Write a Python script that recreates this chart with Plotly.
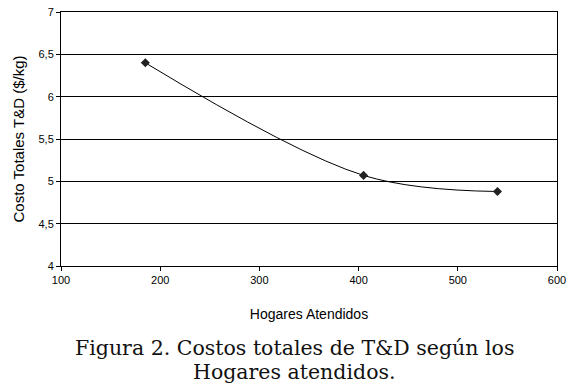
import plotly.graph_objects as go

hogares = [185, 405, 540]
costo = [6.40, 5.07, 4.88]
x_ticks = [100, 200, 300, 400, 500, 600]
y_ticks = [4, 4.5, 5, 5.5, 6, 6.5, 7]
y_labels = ["4", "4,5", "5", "5,5", "6", "6,5", "7"]

fig = go.Figure()
fig.add_trace(go.Scatter(
    x=hogares, y=costo, mode="lines+markers",
    line=dict(color="black", width=1, shape="spline", smoothing=1.0),
    marker=dict(symbol="diamond", size=7, color="#222222"),
    showlegend=False,
))

axis_font = dict(family="Liberation Sans, Arial", size=11, color="black")
fig.update_layout(
    width=570, height=392,
    margin=dict(l=61, r=13, t=12, b=126),
    paper_bgcolor="white", plot_bgcolor="white",
    xaxis=dict(range=[100, 600], tickvals=x_ticks, ticks="outside", ticklen=4,
               tickcolor="black", showline=True, linecolor="black", linewidth=1,
               mirror=True, showgrid=False, zeroline=False, tickfont=axis_font,
               automargin=False,
               title=dict(text="Hogares Atendidos",
                          font=dict(family="Liberation Sans, Arial", size=14, color="black"),
                          standoff=23)),
    yaxis=dict(range=[4, 7], tickvals=y_ticks, ticktext=y_labels, ticks="outside",
               ticklen=4, tickcolor="black", showline=True, linecolor="black",
               linewidth=1, mirror=True, showgrid=True, gridcolor="black",
               gridwidth=1, zeroline=False, tickfont=axis_font, automargin=False,
               title=dict(text="Costo Totales T&D ($/kg)",
                          font=dict(family="Liberation Sans, Arial", size=15, color="black"),
                          standoff=10)),
)

cap_font = dict(family="DejaVu Serif", size=20.5, color="#111111")
fig.add_annotation(text="Figura 2. Costos totales de T&D según los", xref="paper",
                   yref="paper", x=0.47, y=-0.322, showarrow=False,
                   font=cap_font, xanchor="center", yanchor="middle")
fig.add_annotation(text="Hogares atendidos.", xref="paper", yref="paper",
                   x=0.47, y=-0.418, showarrow=False, font=cap_font,
                   xanchor="center", yanchor="middle")

fig.write_html("out.html")
